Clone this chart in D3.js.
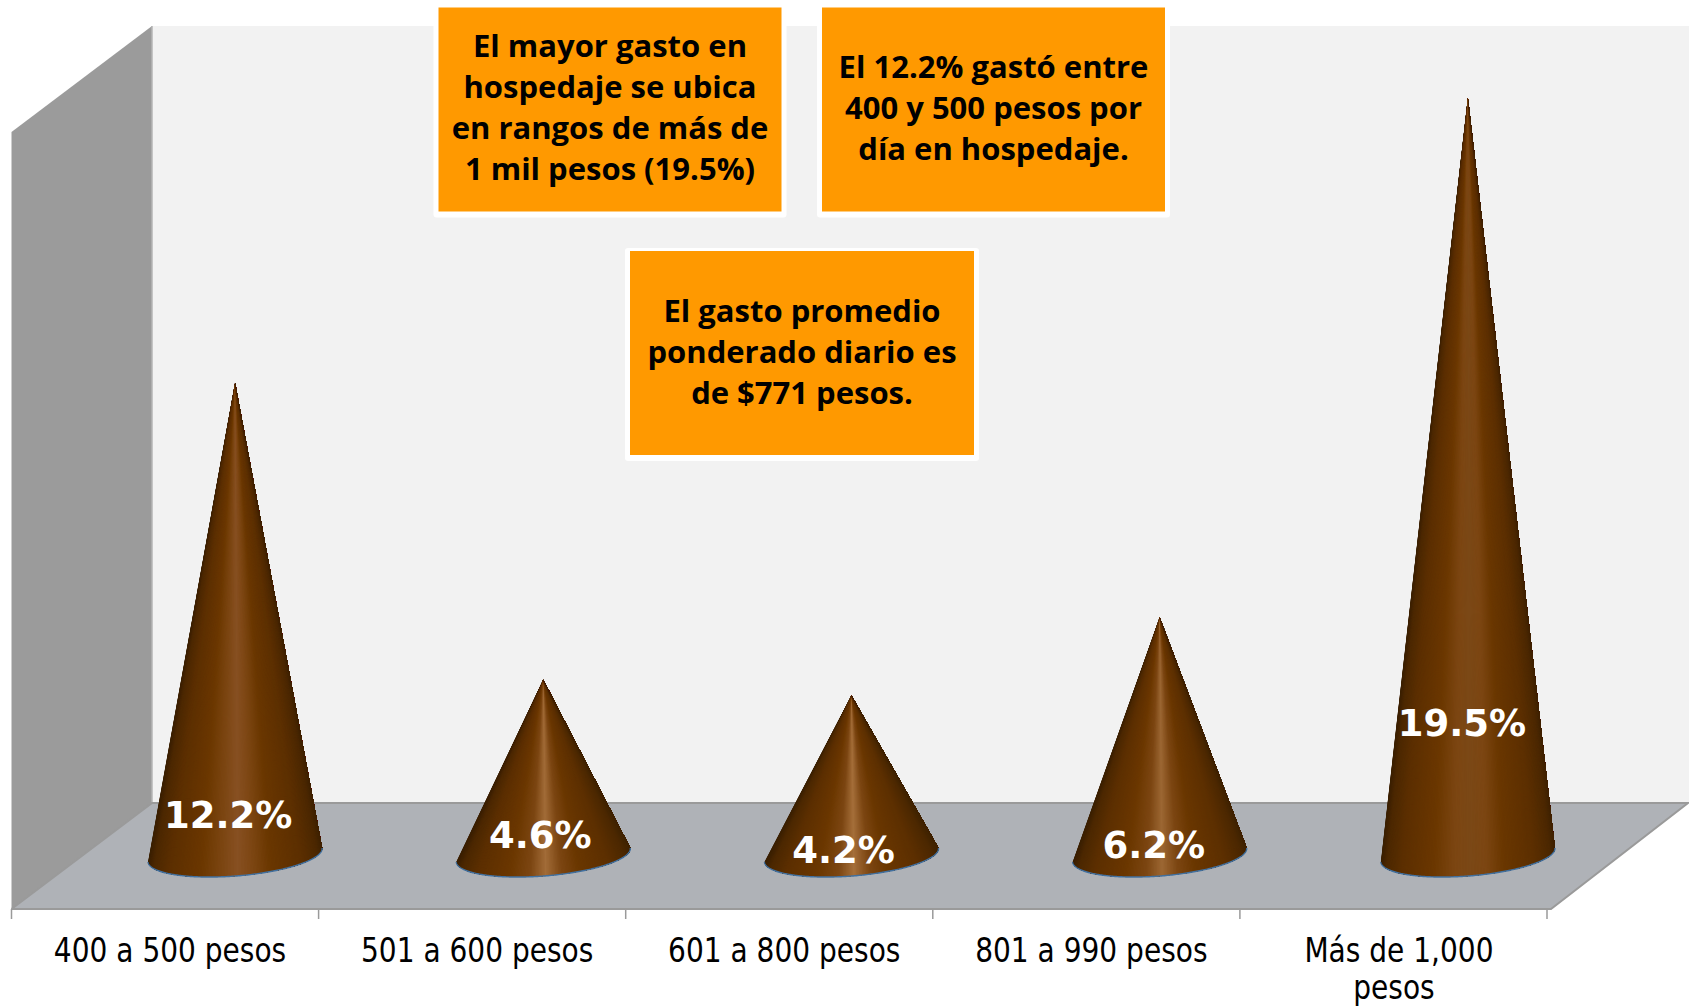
<!DOCTYPE html>
<html><head><meta charset="utf-8">
<script src="https://cdn.jsdelivr.net/npm/d3@7"></script>
<style>html,body{margin:0;padding:0;background:#fff;overflow:hidden}svg{display:block}</style>
</head><body><svg id="c" width="1689" height="1006"></svg>
<script>
const categories = ["400 a 500 pesos","501 a 600 pesos","601 a 800 pesos","801 a 990 pesos","Más de 1,000 pesos"];
const values = [12.2,4.6,4.2,6.2,19.5];
const valueLabels = ["12.2%","4.6%","4.2%","6.2%","19.5%"];
const notes = [
  ["El mayor gasto en","hospedaje se ubica","en rangos de más de","1 mil pesos (19.5%)"],
  ["El 12.2% gastó entre","400 y 500 pesos por","día en hospedaje."],
  ["El gasto promedio","ponderado diario es","de $771 pesos."]
];

// layout and style
const noteBoxes = [
  {x:438.5,y:7.5,w:343,h:204,base:57},
  {x:822,y:7.5,w:343,h:204,base:78},
  {x:630,y:251,w:344,h:204,base:322}
];
const labelShift = [[-7,828],[-3,848],[-8,863],[-6,858],[-6,736]];
const highlights = ["#875022","#a26c38","#a56f3a","#9c6733","#7b4816"];
const front = {l:11.5,r:1547,y:909}, back = {l:152,r:1688,top:26,y:803};
const a = 87.3, b = 21, tilt = -4.57*Math.PI/180, baseY = 855;

const svg = d3.select("#c");
const x = d3.scaleBand().domain(categories).range([front.l,front.r]);
const coneX = d3.scaleBand().domain(categories).range([81,1622]);
const y = d3.scaleLinear().domain([0,19.5]).range([859.5,98]);
const line = d3.line();
const poly = (pts,fill)=>svg.append("path").attr("d",line(pts)+"Z").attr("fill",fill);

// walls and floor
poly([[back.l,back.top],[1689,back.top],[1689,back.y],[back.l,back.y]],"#f2f2f2");
poly([[front.l,132],[back.l,back.top],[back.l,back.y],[front.l,front.y]],"#9b9b9b");
svg.append("line").attr("x1",back.l).attr("x2",back.l).attr("y1",back.top).attr("y2",back.y).attr("stroke","#b4b4b4").attr("stroke-width",1.5);
poly([[front.l,front.y],[back.l,back.y],[back.r,back.y],[1551,front.y]],"#afb2b7");
svg.append("path").attr("d",line([[front.l,front.y],[back.l,back.y],[back.r,back.y],[1551,front.y],[front.l,front.y]]))
  .attr("fill","none").attr("stroke","#9a9a9a").attr("stroke-width",2);

// category axis
const ticks = categories.map(c=>x(c)).concat([front.r]);
svg.selectAll("line.t").data(ticks).join("line").attr("class","t")
  .attr("x1",d=>d).attr("x2",d=>d).attr("y1",front.y).attr("y2",919)
  .attr("stroke","#9a9a9a").attr("stroke-width",1.5);
function tahoma(sel){return sel.attr("font-family","'DejaVu Sans'").attr("text-anchor","middle");}
categories.forEach((c,i)=>{
  const cx = x(c)+x.bandwidth()/2+5;
  const lines = c==="Más de 1,000 pesos" ? ["Más de 1,000","pesos"] : [c];
  lines.forEach((t,j)=>{
    const dx = i==4 ? (j==0 ? 0.5 : -4.5) : 0;
    tahoma(svg.append("text")).attr("transform",`translate(${cx+dx},${962+j*36.5}) scale(0.85,1)`)
      .attr("font-size",33).attr("fill","#000").text(t);
  });
});

// cones: fan painted from left to right, each layer covering the rest of the base
values.forEach((v,i)=>{
  const cx = coneX(categories[i])+coneX.bandwidth()/2, ay = y(v);
  const col = d3.scaleLinear()
    .domain([0,.03,.12,.3,.42,.51,.6,.7,.88,.97,1])
    .range(["#3a1f02","#4c2800","#5c2f00","#6b3700","#7c4612",highlights[i],"#7c4612","#6a3700","#5c2f00","#4c2800","#402302"]);
  const pts = d3.range(180,-1,-1).map(k=>{
    const t = Math.PI*k/180;
    return [cx + a*Math.cos(t)*Math.cos(tilt) - b*Math.sin(t)*Math.sin(tilt),
            baseY + a*Math.cos(t)*Math.sin(tilt) + b*Math.sin(t)*Math.cos(tilt)];
  });
  const g = svg.append("g");
  const left = d3.min(pts,p=>p[0]), right = d3.max(pts,p=>p[0]);
  g.selectAll("path.w").data(d3.range(0,pts.length-1)).join("path").attr("class","w")
    .attr("d",k=>line([[cx,ay]].concat(pts.slice(k)))+"Z")
    .attr("fill",k=>col((pts[k][0]-left)/(right-left)));
  g.append("path").attr("d",line(pts)).attr("fill","none").attr("stroke","#41709f").attr("stroke-width",1.4);
  tahoma(svg.append("text")).attr("transform",`translate(${cx+labelShift[i][0]},${labelShift[i][1]})`)
    .attr("font-size",37).attr("font-weight",700).attr("fill","#fff").text(valueLabels[i]);
});

// callouts
notes.forEach((n,i)=>{
  const bx = noteBoxes[i];
  svg.append("rect").attr("x",bx.x-5).attr("y",bx.y-3).attr("width",bx.w+10).attr("height",bx.h+9).attr("rx",3).attr("fill","#fff");
  svg.append("rect").attr("x",bx.x).attr("y",bx.y).attr("width",bx.w).attr("height",bx.h).attr("fill","#ff9900");
  n.forEach((t,j)=>{
    svg.append("text").attr("x",bx.x+bx.w/2).attr("y",bx.base+j*41)
      .attr("text-anchor","middle").attr("font-family","'Open Sans'").attr("font-weight",700)
      .attr("font-size",31).attr("fill","#000").text(t);
  });
});
</script></body></html>
